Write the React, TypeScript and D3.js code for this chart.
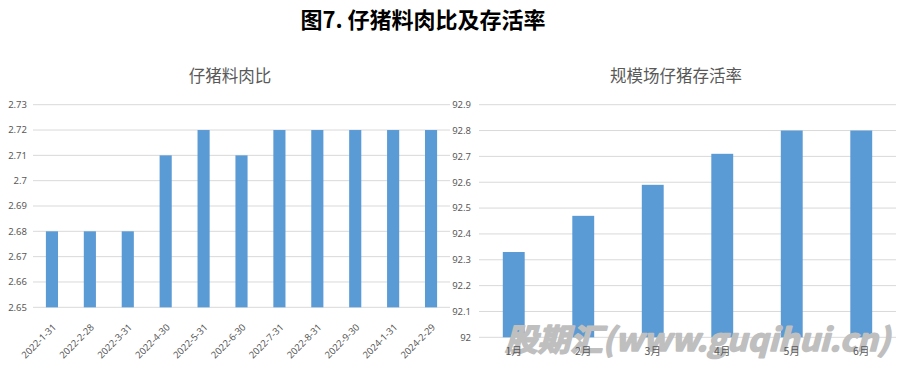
import React from "react";
import * as d3 from "d3";

const mainTitle = "图7. 仔猪料肉比及存活率";
const leftTitle = "仔猪料肉比";
const rightTitle = "规模场仔猪存活率";
const watermark = "股期汇(www.guqihui.cn)";

const ratioCategories = [
  "2022-1-31", "2022-2-28", "2022-3-31", "2022-4-30", "2022-5-31", "2022-6-30",
  "2022-7-31", "2022-8-31", "2022-9-30", "2024-1-31", "2024-2-29",
];
const ratioValues = [2.68, 2.68, 2.68, 2.71, 2.72, 2.71, 2.72, 2.72, 2.72, 2.72, 2.72];
const ratioTickLabels = ["2.65", "2.66", "2.67", "2.68", "2.69", "2.7", "2.71", "2.72", "2.73"];

const survivalCategories = ["1月", "2月", "3月", "4月", "5月", "6月"];
const survivalValues = [92.33, 92.47, 92.59, 92.71, 92.8, 92.8];
const survivalTickLabels = ["92", "92.1", "92.2", "92.3", "92.4", "92.5", "92.6", "92.7", "92.8", "92.9"];

const W = 906;
const H = 372;
const BAR = "#5b9bd5";
const GRID = "#d9d9d9";
const TEXT = "#595959";
const FONT = "'Noto Sans', 'Noto Sans CJK SC', sans-serif";
const CJK = "'Noto Sans CJK SC', 'Noto Sans', sans-serif";

export default function App() {
  // left chart scales
  const lx = d3.scaleBand<string>().domain(ratioCategories).range([33, 450]).paddingInner(0.68).paddingOuter(0.34);
  const lTicks = ratioTickLabels.map((t) => parseFloat(t));
  const ly = d3.scaleLinear().domain([lTicks[0], lTicks[lTicks.length - 1]]).range([307.3, 104.7]);

  // right chart scales
  const rx = d3.scaleBand<string>().domain(survivalCategories).range([479, 896]).paddingInner(0.685).paddingOuter(0.3425);
  const rTicks = survivalTickLabels.map((t) => parseFloat(t));
  const ry = d3.scaleLinear().domain([rTicks[0], rTicks[rTicks.length - 1]]).range([337.3, 104.7]);

  return (
    <svg width={W} height={H} style={{ position: "absolute", left: 0, top: 0, background: "#fff" }}>
      <rect x={0} y={0} width={W} height={H} fill="#fff" />
      <text x={423} y={28} textAnchor="middle" fontFamily={CJK} fontWeight="bold" fontSize={22} fill="#000">
        {mainTitle}
      </text>

      {/* Left chart */}
      <text x={230} y={82} textAnchor="middle" fontFamily={CJK} fontSize={16.5} fill={TEXT}>
        {leftTitle}
      </text>
      {ratioTickLabels.map((lab, i) => (
        <g key={lab}>
          <line x1={33} x2={450} y1={ly(lTicks[i])} y2={ly(lTicks[i])} stroke={GRID} strokeWidth={1} />
          <text x={27} y={ly(lTicks[i])} dy="0.35em" textAnchor="end" fontFamily={FONT} fontSize={9.5} fill={TEXT}>
            {lab}
          </text>
        </g>
      ))}
      {ratioCategories.map((c, i) => (
        <rect key={c} x={lx(c)} y={ly(ratioValues[i])} width={lx.bandwidth()} height={ly(lTicks[0]) - ly(ratioValues[i])} fill={BAR} />
      ))}
      {ratioCategories.map((c) => {
        const cx = (lx(c) as number) + lx.bandwidth() / 2 + 2.5;
        const cy = 325.5;
        return (
          <text key={c} x={cx} y={cy} dy="0.35em" textAnchor="end" transform={`rotate(-45 ${cx} ${cy})`} fontFamily={FONT} fontSize={9.5} fill={TEXT}>
            {c}
          </text>
        );
      })}

      {/* Right chart */}
      <text x={676} y={82} textAnchor="middle" fontFamily={CJK} fontSize={16.5} fill={TEXT}>
        {rightTitle}
      </text>
      {survivalTickLabels.map((lab, i) => (
        <g key={lab}>
          <line x1={479} x2={896} y1={ry(rTicks[i])} y2={ry(rTicks[i])} stroke={GRID} strokeWidth={1} />
          <text x={471} y={ry(rTicks[i])} dy="0.35em" textAnchor="end" fontFamily={FONT} fontSize={9.5} fill={TEXT}>
            {lab}
          </text>
        </g>
      ))}
      {survivalCategories.map((c, i) => (
        <rect key={c} x={rx(c)} y={ry(survivalValues[i])} width={rx.bandwidth()} height={ry(rTicks[0]) - ry(survivalValues[i])} fill={BAR} />
      ))}

      {/* watermark */}
      <text x={505} y={351} textLength={385} lengthAdjust="spacingAndGlyphs" fontFamily={CJK} fontWeight="bold" fontStyle="italic" fontSize={31} fill="#bfbfbf" stroke="#bfbfbf" strokeWidth={1.6} strokeLinejoin="round">
        {watermark}
      </text>

      {survivalCategories.map((c) => (
        <text key={c} x={(rx(c) as number) + rx.bandwidth() / 2} y={355} textAnchor="middle" fontFamily={CJK} fontSize={10.5} fill={TEXT}>
          {c}
        </text>
      ))}
    </svg>
  );
}
